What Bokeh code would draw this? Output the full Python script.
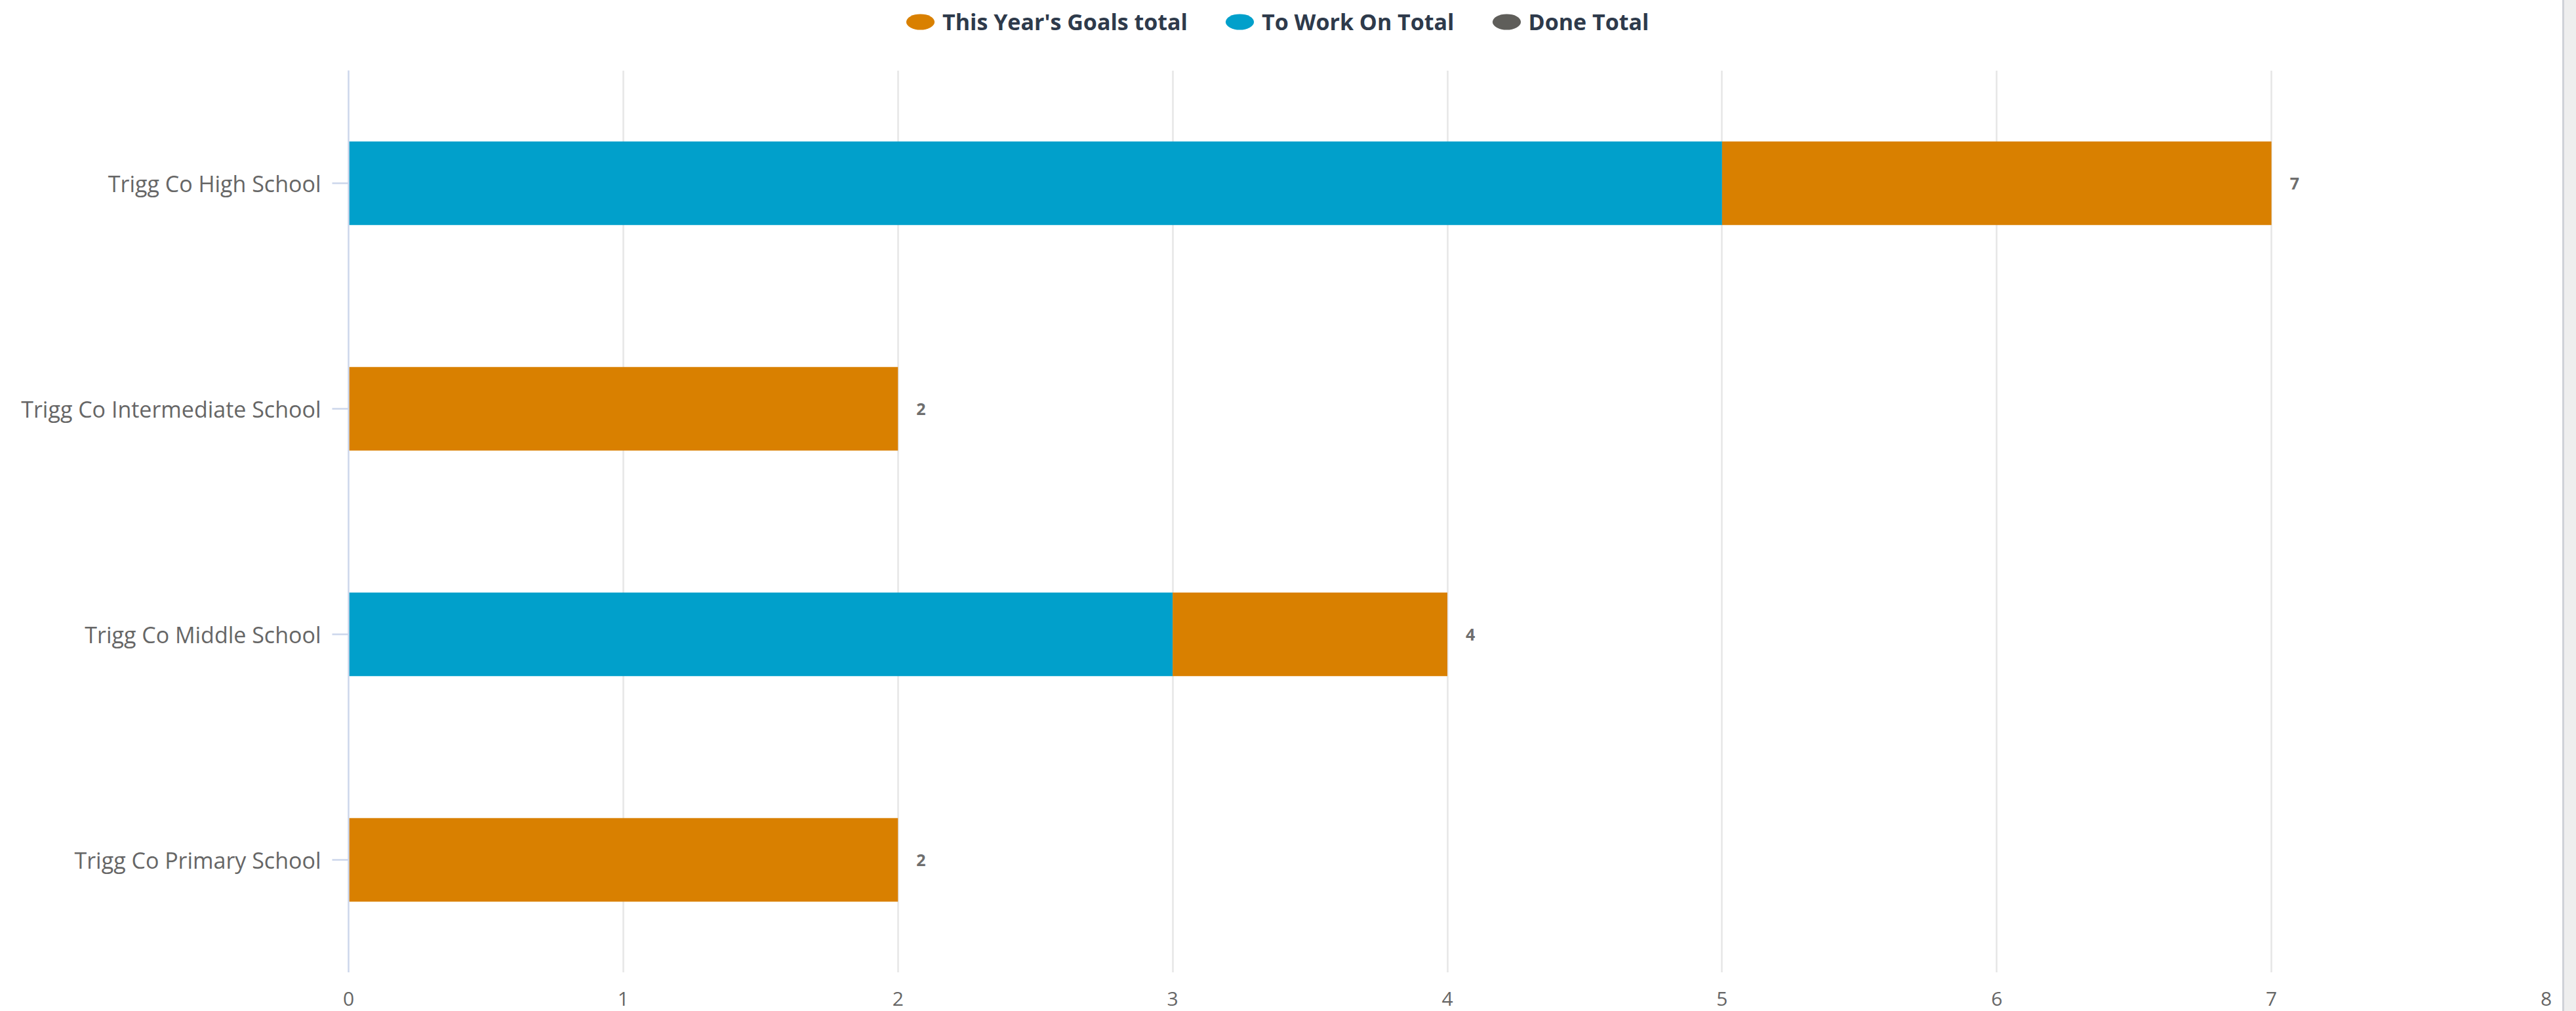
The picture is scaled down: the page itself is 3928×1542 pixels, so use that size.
from bokeh.plotting import figure
from bokeh.models import FactorRange, Range1d, FixedTicker, ColumnDataSource, Legend, LegendItem, Spacer
from bokeh.layouts import row, column
from bokeh.embed import file_html
from bokeh.resources import INLINE
from bokeh.core.properties import value

# ---- data ----
schools = ["Trigg Co High School", "Trigg Co Intermediate School",
           "Trigg Co Middle School", "Trigg Co Primary School"]
to_work_on = [5, 0, 3, 0]
goals = [2, 2, 1, 2]
done = [0, 0, 0, 0]
x_ticks = [0, 1, 2, 3, 4, 5, 6, 7, 8]
x_tick_labels = ["0", "1", "2", "3", "4", "5", "6", "7", "8"]
series_names = ["This Year's Goals total", "To Work On Total", "Done Total"]

ORANGE = "#D98000"
BLUE = "#01A0CB"
GRAY = "#5F5E5A"
FONT = "Open Sans"
XMAX = 8

totals = [a + b + c for a, b, c in zip(to_work_on, goals, done)]

source = ColumnDataSource(dict(
    school=schools, work=to_work_on, goals=goals, done=done,
    total=totals, total_str=[str(t) for t in totals],
))

# ---- layout constants ----
W = 3907
LEFT, RIGHT = 531, 25
LEG_H, MAIN_H, TICK_H = 107, 1376, 59
FRAME_W = W - LEFT - RIGHT
PPU = FRAME_W / XMAX


def bare(fig):
    fig.outline_line_color = None
    fig.background_fill_color = "white"
    fig.border_fill_color = "white"
    fig.xgrid.grid_line_color = None
    fig.ygrid.grid_line_color = None


# ---- legend strip (top) ----
pl = figure(width=W, height=LEG_H, x_range=Range1d(0, 1), y_range=Range1d(0, 1),
            x_axis_location=None, y_axis_location=None,
            output_backend="svg", toolbar_location=None, min_border=0)
pl.frame_align = False
bare(pl)
leg_r = []
for c in [ORANGE, BLUE, GRAY]:
    r = pl.ellipse(x=[-10], y=[-10], width=43, height=24,
                   width_units="screen", height_units="screen",
                   fill_color=c, line_color=None)
    leg_r.append(r)
GH = 54
legend = Legend(items=[LegendItem(label=n, renderers=[r]) for n, r in zip(series_names, leg_r)],
                orientation="horizontal", location=(1376, LEG_H - 60),
                glyph_width=54, glyph_height=GH, label_standoff=7, spacing=52,
                padding=0, margin=0, border_line_color=None, background_fill_alpha=0,
                label_text_font=FONT, label_text_font_size="34px",
                label_text_font_style="bold", label_text_color="#2E3A4B")
pl.add_layout(legend)

# ---- main chart ----
p = figure(width=W, height=MAIN_H,
           y_range=FactorRange(factors=schools[::-1]),
           x_range=Range1d(0, XMAX),
           x_axis_location=None,
           output_backend="svg", toolbar_location=None,
           min_border_left=LEFT, min_border_right=RIGHT,
           min_border_top=0, min_border_bottom=0)
p.frame_align = False
bare(p)

p.hbar_stack(["work", "goals", "done"], y="school", height=0.37,
             color=[BLUE, ORANGE, GRAY], line_color=None, source=source)

p.text(x="total", y="school", text="total_str", source=source,
       x_offset=28, text_align="left", text_baseline="middle",
       text_font=value(FONT), text_font_size="25px", text_font_style="bold",
       text_color="#6E6E6E")

ya = p.yaxis[0]
ya.axis_line_color = "#CCD6EB"
ya.axis_line_width = 2.5
ya.major_tick_line_color = "#CCD6EB"
ya.major_tick_line_width = 2.5
ya.major_tick_out = 25
ya.major_tick_in = 0
ya.major_label_standoff = 17
ya.major_label_text_font = FONT
ya.major_label_text_font_size = "34px"
ya.major_label_text_color = "#666666"

p.xgrid.ticker = FixedTicker(ticks=x_ticks)
p.xgrid.grid_line_color = "#E6E6E6"
p.xgrid.grid_line_width = 2.5

# ---- x tick labels strip (bottom), same x scale as the main chart ----
pt = figure(width=W, height=TICK_H,
            x_range=Range1d(-LEFT / PPU, (W - LEFT) / PPU),
            y_range=Range1d(0, TICK_H),
            x_axis_location=None, y_axis_location=None,
            output_backend="svg", toolbar_location=None, min_border=0)
pt.frame_align = False
bare(pt)
tick_src = ColumnDataSource(dict(x=x_ticks, y=[19] * len(x_ticks), t=x_tick_labels))
pt.text(x="x", y="y", text="t", source=tick_src,
        text_align="center", text_baseline="middle",
        text_font=value(FONT), text_font_size="30px", text_color="#666666")

strip = Spacer(width=21, height=LEG_H + MAIN_H + TICK_H,
               styles={"background-color": "#EEEEEE", "border-left": "3px solid #CFD2D8",
                       "box-sizing": "border-box"})

layout = row(column(pl, p, pt, spacing=0), strip, spacing=0)

open("out.html", "w").write(file_html(layout, INLINE))
